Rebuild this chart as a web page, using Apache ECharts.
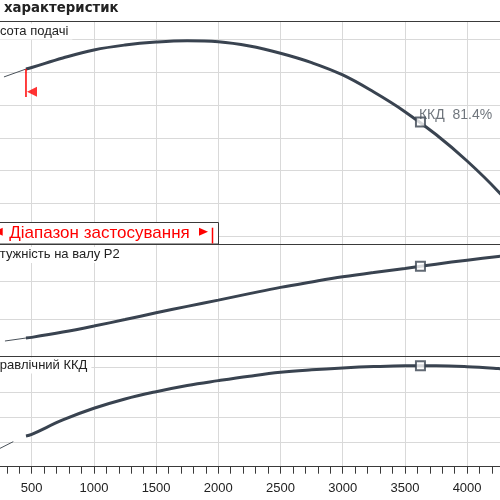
<!DOCTYPE html>
<html>
<head>
<meta charset="utf-8">
<title>Криві характеристик</title>
<script src="https://cdn.jsdelivr.net/npm/echarts@6/dist/echarts.min.js"></script>
<style>
html, body { margin: 0; padding: 0; background: #fff; }
#chart { width: 500px; height: 500px; }
</style>
</head>
<body>
<div id="chart"></div>
<script>
// подача Q, м3/год (робоча ділянка)
const flow = [454, 500, 750, 1000, 1250, 1500, 1750, 2000, 2250, 2500, 2750, 3000, 3250, 3500, 3750, 4000, 4250, 4500];
// висота подачі H, м
const head = [14.18, 14.27, 14.85, 15.34, 15.64, 15.82, 15.90, 15.84, 15.58, 15.14, 14.57, 13.82, 12.78, 11.59, 10.20, 8.59, 6.74, 4.58];
// потужність на валу P2, кВт
const power = [24.4, 25.3, 32.4, 40.5, 49.2, 58.3, 66.9, 75.3, 84.0, 92.4, 99.7, 106.6, 112.5, 117.8, 123.6, 129.0, 134.0, 138.8];
// гідравлічний ККД, %
const efficiency = [24.8, 26.1, 37.7, 47.1, 54.6, 60.5, 65.5, 69.4, 73.0, 76.1, 78.1, 79.6, 80.7, 81.3, 81.3, 80.6, 79.1, 77.2];

// тонкі ділянки поза діапазоном застосування
const headThinFlow = [277, 454];
const headThin = [13.70, 14.18];
const powerThinFlow = [285, 454];
const powerThin = [20.4, 24.4];
const effThinFlow = [200, 352];
const effThin = [12.5, 20.2];

// робоча точка
const bepFlow = 3625;
const bepHead = 10.96;
const bepPower = 120.9;
const bepEff = 81.4;

// початок діапазону застосування
const rangeMinFlow = 454;
const rangeMarkLow = 12.48;
const rangeArrowHead = 12.8;

const xTicks = { min: 0, max: 4500, step: 500 };

const zip = (xs, ys) => xs.map((x, i) => [x, ys[i]]);

const lineColor = '#394350';
const gridColor = '#d9d9d9';
const borderColor = '#3a3a3a';
const labelFont = '13px "Liberation Sans", Arial, sans-serif';

let myChart = echarts.init(document.getElementById('chart'));

function xAxisFor(gridIndex, extra) {
    return Object.assign({
        type: 'value',
        gridIndex: gridIndex,
        min: xTicks.min,
        max: xTicks.max,
        interval: xTicks.step,
        axisLine: { show: true, onZero: false, lineStyle: { color: borderColor, width: 1 } },
        axisTick: { show: false },
        axisLabel: { show: false },
        splitLine: { show: true, lineStyle: { color: gridColor, width: 1 } },
        z: 1
    }, extra);
}

function yAxisFor(gridIndex, extra) {
    return Object.assign({
        type: 'value',
        gridIndex: gridIndex,
        axisLine: { show: false },
        axisTick: { show: false },
        axisLabel: { show: false },
        splitLine: { show: true, lineStyle: { color: gridColor, width: 1 } },
        z: 0
    }, extra);
}

function thin(xi, yi, data) {
    return {
        type: 'line', xAxisIndex: xi, yAxisIndex: yi, data: data,
        symbol: 'none', silent: true,
        lineStyle: { color: '#4a525a', width: 1 }, z: 3
    };
}

function thick(xi, yi, data) {
    return {
        type: 'line', xAxisIndex: xi, yAxisIndex: yi, data: data,
        symbol: 'none', smooth: 0.4, silent: true,
        lineStyle: { color: lineColor, width: 3 }, z: 3
    };
}

function bep(xi, yi, point, label) {
    return {
        type: 'scatter', xAxisIndex: xi, yAxisIndex: yi, data: [point],
        symbol: 'rect', symbolSize: 9, silent: true,
        itemStyle: { color: '#fff', borderColor: lineColor, borderWidth: 2 },
        label: label || { show: false },
        z: 5
    };
}

function panelLabel(text, x, y) {
    return {
        type: 'text', x: x, y: y, z: 20,
        style: {
            text: text, font: labelFont, fill: '#222', verticalAlign: 'top',
            backgroundColor: '#fff', padding: [1, 4, 2, 0]
        }
    };
}

const gridBase = { left: -30.5, right: -29.3, containLabel: false, outerBoundsMode: 'none' };

let option = {
    animation: false,
    backgroundColor: '#fff',
    grid: [
        Object.assign({ top: 21.5, height: 223 }, gridBase),
        Object.assign({ top: 244.5, height: 111.7 }, gridBase),
        Object.assign({ top: 356.2, height: 110.5 }, gridBase)
    ],
    xAxis: [
        xAxisFor(0, { position: 'bottom' }),
        xAxisFor(0, { position: 'top', splitLine: { show: false } }),
        xAxisFor(1, { position: 'bottom' }),
        xAxisFor(2, {
            position: 'bottom',
            axisTick: { show: true, length: 7, lineStyle: { color: borderColor } },
            minorTick: { show: true, splitNumber: 5, length: 7, lineStyle: { color: borderColor } },
            axisLabel: {
                show: true, margin: 15, color: '#222',
                fontSize: 13, fontFamily: '"Liberation Sans", Arial, sans-serif',
                formatter: function (v) { return String(v); }
            }
        })
    ],
    yAxis: [
        // H: лінії сітки через 2 м
        yAxisFor(0, { min: 3.514, max: 17.07, minInterval: 2, maxInterval: 2, splitNumber: 7 }),
        yAxisFor(1, { min: 0, max: 150, interval: 50 }),
        yAxisFor(2, { min: 0, max: 89.1, interval: 20 })
    ],
    series: [
        thin(0, 0, zip(headThinFlow, headThin)),
        thick(0, 0, zip(flow, head)),
        {
            type: 'line', xAxisIndex: 0, yAxisIndex: 0,
            data: [[rangeMinFlow, head[0]], [rangeMinFlow, rangeMarkLow]],
            symbol: 'none', silent: true,
            lineStyle: { color: '#ff0000', width: 1.5 }, z: 4
        },
        {
            type: 'scatter', xAxisIndex: 0, yAxisIndex: 0,
            data: [[rangeMinFlow, rangeArrowHead]],
            symbol: 'triangle', symbolSize: 10, symbolRotate: 90, symbolOffset: [6, 0],
            silent: true, itemStyle: { color: '#ff0000' }, z: 4
        },
        bep(0, 0, [bepFlow, bepHead], {
            show: true,
            formatter: 'ККД  ' + bepEff + '%',
            position: [4, -8],
            color: '#4b535b',
            fontSize: 14,
            fontFamily: '"Liberation Sans", Arial, sans-serif'
        }),
        thin(2, 1, zip(powerThinFlow, powerThin)),
        thick(2, 1, zip(flow, power)),
        bep(2, 1, [bepFlow, bepPower]),
        thin(3, 2, zip(effThinFlow, effThin)),
        thick(3, 2, zip(flow, efficiency)),
        bep(3, 2, [bepFlow, bepEff])
    ],
    graphic: [
        {
            type: 'text', x: 4, y: 9, z: 20,
            style: {
                text: 'характеристик', font: 'bold 13.3px "DejaVu Sans", Verdana, sans-serif',
                fill: '#222', verticalAlign: 'middle'
            }
        },
        panelLabel('Висота подачі', -16, 23.5),
        panelLabel('Потужність на валу P2', -16.5, 247),
        panelLabel('Гідравлічний ККД', -17.7, 357.5),
        // діапазон застосування
        {
            type: 'rect', z: 20,
            shape: { x: -2, y: 222.5, width: 220.5, height: 21.5 },
            style: { fill: '#fff', stroke: borderColor, lineWidth: 1 }
        },
        {
            type: 'text', x: 9.3, y: 233, z: 21,
            style: {
                text: 'Діапазон застосування', font: '17px "Liberation Sans", Arial, sans-serif',
                fill: '#ff0000', verticalAlign: 'middle'
            }
        },
        {
            type: 'polygon', z: 21,
            shape: { points: [[-6, 231.7], [2.7, 227.7], [2.7, 235.7]] },
            style: { fill: '#ff0000' }
        },
        {
            type: 'polygon', z: 21,
            shape: { points: [[199, 227.7], [199, 235.7], [208, 231.7]] },
            style: { fill: '#ff0000' }
        },
        {
            type: 'line', z: 21,
            shape: { x1: 212.5, y1: 227.7, x2: 212.5, y2: 243.5 },
            style: { stroke: '#ff0000', lineWidth: 1.5 }
        }
    ]
};
myChart.setOption(option);
</script>
</body>
</html>
